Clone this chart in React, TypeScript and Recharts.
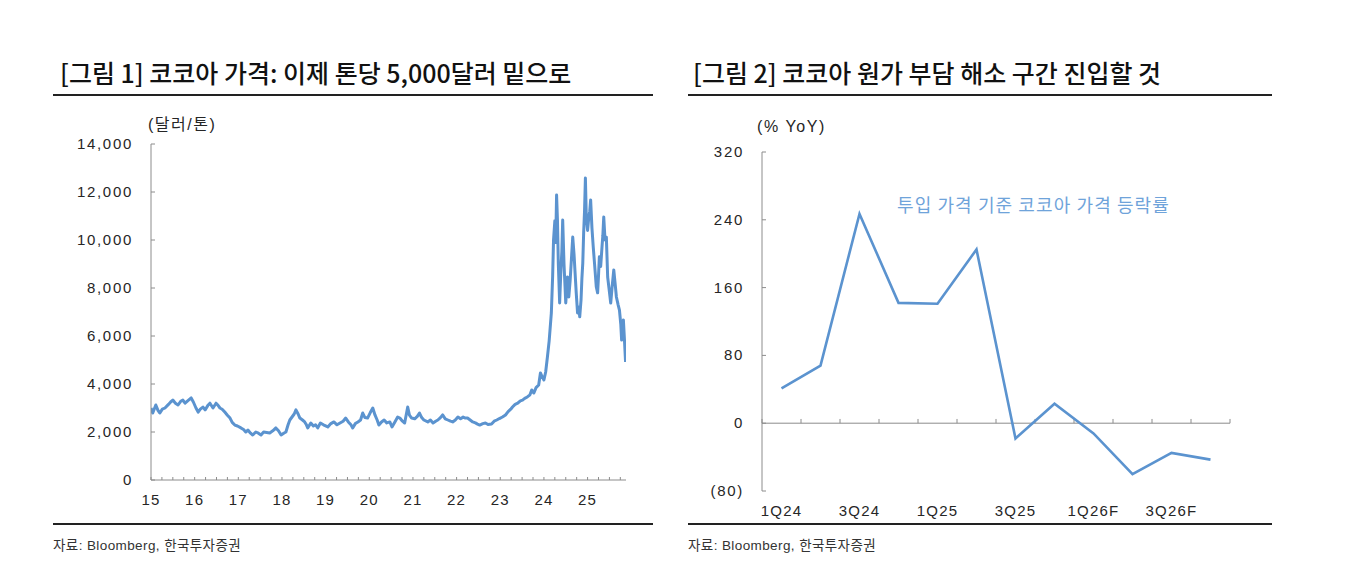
import React from "react";
import { LineChart, Line, XAxis, YAxis, ReferenceLine } from "recharts";

// [그림 1] cocoa price, USD/ton (decimal year)
const priceDates = [
  2015.0, 2015.04, 2015.11, 2015.16, 2015.2, 2015.26, 2015.32, 2015.4, 2015.45, 2015.5,
  2015.56, 2015.62, 2015.68, 2015.73, 2015.78, 2015.84, 2015.92, 2015.97, 2016.03, 2016.08,
  2016.13, 2016.19, 2016.24, 2016.3, 2016.35, 2016.42, 2016.49, 2016.54, 2016.58, 2016.63,
  2016.69, 2016.75, 2016.81, 2016.86, 2016.92, 2016.98, 2017.06, 2017.12, 2017.17, 2017.22,
  2017.28, 2017.33, 2017.4, 2017.46, 2017.52, 2017.58, 2017.65, 2017.72, 2017.79, 2017.86,
  2017.92, 2017.98, 2018.04, 2018.09, 2018.14, 2018.18, 2018.23, 2018.28, 2018.32, 2018.37,
  2018.41, 2018.47, 2018.52, 2018.56, 2018.59, 2018.66, 2018.72, 2018.77, 2018.82, 2018.88,
  2018.95, 2019.05, 2019.12, 2019.19, 2019.26, 2019.33, 2019.4, 2019.46, 2019.52, 2019.58,
  2019.62, 2019.68, 2019.74, 2019.8, 2019.85, 2019.9, 2019.96, 2020.02, 2020.08, 2020.13,
  2020.18, 2020.22, 2020.28, 2020.34, 2020.4, 2020.47, 2020.52, 2020.58, 2020.65, 2020.7,
  2020.76, 2020.81, 2020.88, 2020.92, 2020.97, 2021.04, 2021.1, 2021.15, 2021.2, 2021.25,
  2021.34, 2021.4, 2021.46, 2021.52, 2021.57, 2021.63, 2021.68, 2021.74, 2021.8, 2021.86,
  2021.91, 2021.97, 2022.03, 2022.09, 2022.15, 2022.2, 2022.25, 2022.31, 2022.37, 2022.43,
  2022.48, 2022.53, 2022.6, 2022.66, 2022.72, 2022.8, 2022.86, 2022.92, 2022.98, 2023.05,
  2023.12, 2023.18, 2023.24, 2023.28, 2023.34, 2023.4, 2023.46, 2023.51, 2023.56, 2023.62,
  2023.68, 2023.72, 2023.77, 2023.82, 2023.88, 2023.92, 2023.96, 2024.0, 2024.04, 2024.08,
  2024.12, 2024.17, 2024.2, 2024.22, 2024.25, 2024.27, 2024.29, 2024.31, 2024.33, 2024.36,
  2024.39, 2024.41, 2024.43, 2024.46, 2024.48, 2024.5, 2024.52, 2024.54, 2024.57, 2024.6,
  2024.63, 2024.66, 2024.69, 2024.71, 2024.74, 2024.77, 2024.8, 2024.82, 2024.85, 2024.87,
  2024.89, 2024.91, 2024.93, 2024.95, 2024.97, 2025.0, 2025.03, 2025.05, 2025.07, 2025.1,
  2025.13, 2025.16, 2025.2, 2025.23, 2025.25, 2025.27, 2025.3, 2025.33, 2025.35, 2025.37,
  2025.4, 2025.43, 2025.46, 2025.49, 2025.53, 2025.56, 2025.6, 2025.63, 2025.66, 2025.7,
  2025.73, 2025.76, 2025.78, 2025.8, 2025.82, 2025.84, 2025.87,
];
const priceValues = [
  3000, 2790, 3125, 2900, 2790, 2950, 3000, 3150, 3250, 3330,
  3200, 3125, 3280, 3330, 3200, 3300, 3420, 3250, 3000, 2830,
  2950, 3040, 2920, 3100, 3200, 3000, 3200, 3100, 3000, 2950,
  2830, 2700, 2580, 2400, 2290, 2250, 2170, 2100, 2000, 2080,
  1950, 1875, 2000, 1950, 1875, 2000, 1980, 1960, 2050, 2170,
  2050, 1875, 1950, 2000, 2300, 2500, 2625, 2750, 2920, 2750,
  2580, 2500, 2420, 2300, 2170, 2375, 2250, 2300, 2170, 2375,
  2300, 2210, 2350, 2420, 2300, 2375, 2450, 2580, 2420, 2300,
  2170, 2350, 2420, 2500, 2790, 2600, 2580, 2800, 3000, 2710,
  2500, 2290, 2420, 2500, 2380, 2420, 2210, 2400, 2625, 2580,
  2450, 2375, 3040, 2700, 2580, 2550, 2650, 2790, 2600, 2500,
  2420, 2500, 2375, 2450, 2500, 2600, 2710, 2550, 2500, 2450,
  2420, 2500, 2625, 2550, 2620, 2580, 2580, 2500, 2420, 2380,
  2330, 2290, 2350, 2375, 2310, 2330, 2450, 2500, 2560, 2625,
  2710, 2850, 2950, 3040, 3150, 3200, 3300, 3330, 3400, 3460,
  3550, 3750, 3625, 3850, 3960, 4460, 4300, 4170, 4500, 5125,
  5800, 6960, 8500, 10000, 10800, 9900, 11875, 10830, 9000, 7375,
  8800, 9500, 10830, 9000, 8200, 7375, 7900, 8460, 7625, 8300,
  9200, 10125, 9400, 8750, 7800, 6960, 7200, 6800, 7500, 8400,
  9040, 10300, 11200, 12580, 11000, 10400, 11000, 11200, 11670, 10500,
  9700, 9000, 8040, 7800, 8500, 9300, 8900, 9700, 10200, 10960,
  10000, 10125, 8460, 8000, 7375, 8000, 8750, 8200, 7625, 7300,
  7080, 6500, 5830, 6200, 6670, 6000, 4920,
];
const priceTicksY = [0, 2000, 4000, 6000, 8000, 10000, 12000, 14000];
const yearTicks = Array.from({ length: 44 }, (_, i) => 2015 + i * 0.25);

// [그림 2] cocoa input-cost change, % YoY
const quarters = [
  "1Q24", "2Q24", "3Q24", "4Q24", "1Q25", "2Q25",
  "3Q25", "4Q25", "1Q26F", "2Q26F", "3Q26F", "4Q26F",
];
const yoyValues = [41, 68, 247, 142, 141, 205, -18, 23, -12, -60, -35, -43];
const yoyTicksY = [-80, 0, 80, 160, 240, 320];

const priceData = priceDates.map((t, i) => ({ t, v: priceValues[i] }));
const yoyData = quarters.map((q, i) => ({ i, q, v: yoyValues[i] }));
const quarterEdges = Array.from({ length: 13 }, (_, k) => k - 0.5);

const FONT = "'Liberation Sans', 'Noto Sans CJK KR', sans-serif";
const KFONT = "'Noto Sans CJK KR', sans-serif";
const AXIS = "#8c8c8c";
const TXT = "#262626";
const BLUE = "#5b93cf";

const YTick = ({ x, y, payload, fmt }: any) => (
  <g>
    <line x1={x} x2={x + 4} y1={y} y2={y} stroke={AXIS} />
    <text x={x - 18} y={y} dy={5} textAnchor="end" fill={TXT} fontSize={15} fontFamily={FONT} letterSpacing={1.7}>
      {fmt(payload.value)}
    </text>
  </g>
);

const YearTick = ({ x, y, payload }: any) => {
  const v = payload.value;
  const isYear = Math.abs(v - Math.round(v)) < 1e-6;
  return (
    <g>
      <line x1={x} x2={x} y1={y} y2={y - 3} stroke={AXIS} />
      {isYear && (
        <text x={x} y={y} dy={25} textAnchor="middle" fill={TXT} fontSize={15} fontFamily={FONT} letterSpacing={1.2}>
          {String(Math.round(v) - 2000)}
        </text>
      )}
    </g>
  );
};

const QuarterTick = ({ x, y, payload }: any) => (
  <text x={x} y={y} dy={25} textAnchor="middle" fill={TXT} fontSize={15} fontFamily={FONT} letterSpacing={1.2}>
    {quarters[payload.value]}
  </text>
);

const fmtPrice = (v: number) => v.toLocaleString("en-US");
const fmtPct = (v: number) => (v < 0 ? `(${-v})` : String(v));

const abs = (left: number, top: number): React.CSSProperties => ({
  position: "absolute",
  left,
  top,
  whiteSpace: "nowrap",
});

export default function App() {
  return (
    <div style={{ position: "absolute", left: 0, top: 0, width: 1357, height: 574, background: "#fff", fontFamily: FONT }}>
      {/* titles */}
      <div style={{ ...abs(60, 57), fontFamily: KFONT, fontSize: 25, fontWeight: 500, color: "#111", lineHeight: "30px" }}>
        [그림 1] 코코아 가격: 이제 톤당 5,000달러 밑으로
      </div>
      <div style={{ ...abs(693, 57), fontFamily: KFONT, fontSize: 25, fontWeight: 500, color: "#111", lineHeight: "30px" }}>
        [그림 2] 코코아 원가 부담 해소 구간 진입할 것
      </div>
      {/* rules */}
      <div style={{ ...abs(53, 94), width: 600, height: 2, background: "#222" }} />
      <div style={{ ...abs(688, 94), width: 584, height: 2, background: "#222" }} />
      <div style={{ ...abs(53, 523), width: 600, height: 2, background: "#222" }} />
      <div style={{ ...abs(688, 523), width: 584, height: 2, background: "#222" }} />
      {/* sources */}
      <div style={{ ...abs(53, 536), fontSize: 13.5, color: "#333", lineHeight: "20px", letterSpacing: 0.4 }}>
        자료: Bloomberg, 한국투자증권
      </div>
      <div style={{ ...abs(688, 536), fontSize: 13.5, color: "#333", lineHeight: "20px", letterSpacing: 0.4 }}>
        자료: Bloomberg, 한국투자증권
      </div>
      {/* units */}
      <div style={{ ...abs(148, 114), fontSize: 16, color: TXT, lineHeight: "22px", letterSpacing: 1.5 }}>(달러/톤)</div>
      <div style={{ ...abs(757, 116), fontSize: 16, color: TXT, lineHeight: "22px", letterSpacing: 1.6 }}>(% YoY)</div>
      {/* annotation */}
      <div style={{ ...abs(897, 192), fontFamily: KFONT, fontSize: 18, color: "#6fa3da", lineHeight: "24px", letterSpacing: 1.1 }}>
        투입 가격 기준 코코아 가격 등락률
      </div>

      <div style={abs(50, 110)}>
        <LineChart width={600} height={420} data={priceData} margin={{ top: 34, right: 24, bottom: 20, left: 0 }}>
          <XAxis
            dataKey="t"
            type="number"
            domain={[2015, 2025.88]}
            ticks={yearTicks}
            interval={0}
            tickSize={0}
            tickMargin={0}
            tickLine={false}
            axisLine={{ stroke: AXIS }}
            tick={<YearTick />}
            height={30}
            allowDataOverflow
          />
          <YAxis
            type="number"
            domain={[0, 14000]}
            ticks={priceTicksY}
            interval={0}
            tickSize={0}
            tickMargin={0}
            tickLine={false}
            axisLine={{ stroke: AXIS }}
            tick={<YTick fmt={fmtPrice} />}
            width={101}
          />
          <Line
            type="linear"
            dataKey="v"
            stroke={BLUE}
            strokeWidth={3}
            strokeLinejoin="round"
            dot={false}
            isAnimationActive={false}
          />
        </LineChart>
      </div>

      <div style={abs(680, 120)}>
        <LineChart width={580} height={420} data={yoyData} margin={{ top: 32, right: 30, bottom: 19, left: 0 }}>
          <XAxis
            dataKey="i"
            type="number"
            domain={[-0.5, 11.5]}
            ticks={[0, 2, 4, 6, 8, 10]}
            interval={0}
            tickSize={0}
            tickMargin={0}
            tickLine={false}
            axisLine={false}
            tick={<QuarterTick />}
            height={30}
          />
          <YAxis
            type="number"
            domain={[-80, 320]}
            ticks={yoyTicksY}
            interval={0}
            tickSize={0}
            tickMargin={0}
            tickLine={false}
            axisLine={{ stroke: AXIS }}
            tick={<YTick fmt={fmtPct} />}
            width={82}
          />
          <ReferenceLine y={0} stroke={AXIS} />
          {quarterEdges.map((b) => (
            <ReferenceLine
              key={b}
              segment={[
                { x: b, y: 0 },
                { x: b, y: 5 },
              ]}
              stroke={AXIS}
            />
          ))}
          <Line
            type="linear"
            dataKey="v"
            stroke={BLUE}
            strokeWidth={2.6}
            dot={false}
            isAnimationActive={false}
          />
        </LineChart>
      </div>
    </div>
  );
}
